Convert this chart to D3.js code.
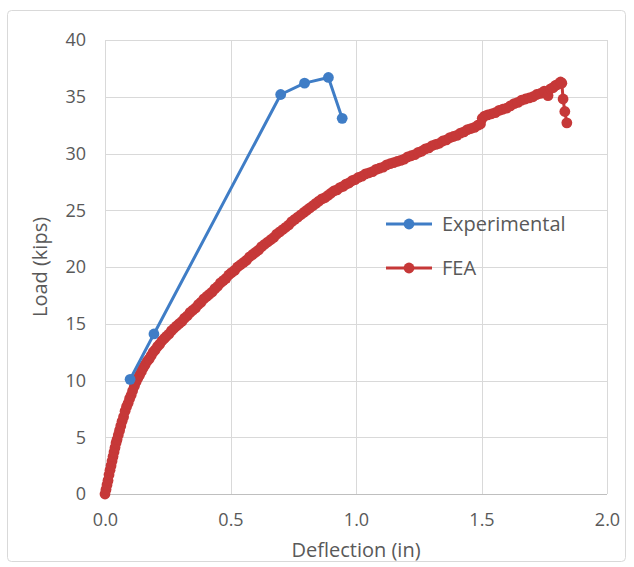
<!DOCTYPE html>
<html>
<head>
<meta charset="utf-8">
<script src="https://cdn.jsdelivr.net/npm/d3@7"></script>
<style>
  html, body { margin: 0; padding: 0; background: #ffffff; }
  svg text { font-family: "Open Sans", "Noto Sans", sans-serif; fill: #595959; }
</style>
</head>
<body>
<svg id="chart" width="634" height="567"></svg>
<script>
// ---- data ----
const xTicks = [0.0, 0.5, 1.0, 1.5, 2.0];
const yTicks = [0, 5, 10, 15, 20, 25, 30, 35, 40];
const seriesNames = ["Experimental", "FEA"];

const expDeflection = [0.10, 0.195, 0.70, 0.795, 0.89, 0.945];
const expLoad       = [10.1, 14.1, 35.2, 36.2, 36.7, 33.1];

const feaDeflection = [
  0.000, 0.004, 0.008, 0.012, 0.016, 0.020, 0.024, 0.028, 0.032, 0.036,
  0.040, 0.044, 0.048, 0.053, 0.058, 0.063, 0.068, 0.074, 0.080, 0.086,
  0.092, 0.098, 0.104, 0.110, 0.117, 0.124, 0.131, 0.138, 0.145, 0.152,
  0.160, 0.168, 0.176, 0.184, 0.192, 0.200, 0.209, 0.218, 0.227, 0.236,
  0.245, 0.255, 0.265, 0.275, 0.285, 0.295, 0.306, 0.317, 0.328, 0.339,
  0.350, 0.361, 0.372, 0.383, 0.394, 0.405, 0.416, 0.427, 0.438, 0.449,
  0.460, 0.471, 0.482, 0.493, 0.504, 0.516, 0.528, 0.540, 0.552, 0.564,
  0.576, 0.588, 0.600, 0.612, 0.624, 0.636, 0.648, 0.660, 0.672, 0.684,
  0.696, 0.708, 0.720, 0.732, 0.744, 0.756, 0.768, 0.780, 0.792, 0.804,
  0.816, 0.828, 0.840, 0.852, 0.864, 0.876, 0.888, 0.900, 0.912, 0.924,
  0.936, 0.948, 0.960, 0.972, 0.984, 0.996, 1.010, 1.024, 1.038, 1.052,
  1.066, 1.080, 1.094, 1.108, 1.122, 1.136, 1.150, 1.164, 1.178, 1.192,
  1.206, 1.220, 1.234, 1.248, 1.262, 1.276, 1.290, 1.304, 1.318, 1.332,
  1.346, 1.360, 1.374, 1.388, 1.402, 1.416, 1.430, 1.444, 1.458, 1.472,
  1.486, 1.496, 1.503, 1.512, 1.525, 1.540, 1.555, 1.570, 1.585, 1.600,
  1.615, 1.630, 1.645, 1.660, 1.675, 1.690, 1.705, 1.720, 1.735, 1.750,
  1.765, 1.775, 1.785, 1.795, 1.805, 1.815, 1.820, 1.825, 1.832, 1.840
];
const feaLoad = [
  0.0, 0.4, 0.8, 1.2, 1.7, 2.1, 2.5, 2.9, 3.3, 3.7,
  4.1, 4.5, 4.8, 5.2, 5.6, 6.0, 6.4, 6.8, 7.3, 7.7,
  8.0, 8.4, 8.7, 9.1, 9.5, 9.9, 10.2, 10.5, 10.8, 11.1,
  11.4, 11.7, 11.9, 12.2, 12.5, 12.7, 13.0, 13.2, 13.5, 13.7,
  13.9, 14.1, 14.4, 14.6, 14.8, 15.0, 15.2, 15.5, 15.7, 16.0,
  16.2, 16.4, 16.7, 16.9, 17.2, 17.4, 17.6, 17.8, 18.1, 18.3,
  18.6, 18.8, 19.0, 19.3, 19.5, 19.7, 20.0, 20.2, 20.4, 20.6,
  20.9, 21.1, 21.3, 21.5, 21.8, 22.0, 22.2, 22.4, 22.6, 22.9,
  23.1, 23.3, 23.5, 23.7, 24.0, 24.2, 24.4, 24.6, 24.8, 25.0,
  25.2, 25.4, 25.6, 25.8, 26.0, 26.1, 26.3, 26.5, 26.7, 26.8,
  27.0, 27.1, 27.3, 27.4, 27.6, 27.7, 27.9, 28.0, 28.2, 28.3,
  28.4, 28.6, 28.7, 28.8, 29.0, 29.1, 29.2, 29.3, 29.4, 29.5,
  29.7, 29.8, 29.9, 30.1, 30.2, 30.4, 30.5, 30.7, 30.8, 30.9,
  31.1, 31.2, 31.4, 31.5, 31.6, 31.8, 31.9, 32.1, 32.2, 32.3,
  32.5, 32.6, 33.1, 33.3, 33.4, 33.5, 33.6, 33.8, 33.9, 34.0,
  34.2, 34.4, 34.5, 34.7, 34.8, 34.9, 35.0, 35.2, 35.3, 35.5,
  35.1, 35.7, 35.8, 36.0, 36.1, 36.3, 36.2, 34.8, 33.7, 32.7
];

const colors = { Experimental: "#3f7dc6", FEA: "#c63838" };

// ---- layout ----
const svg = d3.select("#chart");
const plot = { left: 105, right: 607, top: 40, bottom: 494 };

const x = d3.scaleLinear().domain([0, 2]).range([plot.left, plot.right]);
const y = d3.scaleLinear().domain([0, 40]).range([plot.bottom, plot.top]);

// outer chart border
svg.append("rect")
  .attr("x", 7.5).attr("y", 10.5).attr("width", 618).attr("height", 551)
  .attr("rx", 4)
  .attr("fill", "#ffffff").attr("stroke", "#d9d9d9").attr("stroke-width", 1);

// gridlines
const grid = svg.append("g");
grid.selectAll("line.h").data(yTicks).join("line")
  .attr("x1", plot.left).attr("x2", plot.right)
  .attr("y1", d => Math.round(y(d)) + 0.5).attr("y2", d => Math.round(y(d)) + 0.5)
  .attr("stroke", d => d === 0 ? "#bfbfbf" : "#d9d9d9").attr("stroke-width", 1);
grid.selectAll("line.v").data(xTicks).join("line")
  .attr("y1", plot.top).attr("y2", plot.bottom)
  .attr("x1", d => Math.round(x(d)) + 0.5).attr("x2", d => Math.round(x(d)) + 0.5)
  .attr("stroke", "#d9d9d9").attr("stroke-width", 1);

// axes (labels only)
const yAxis = d3.axisLeft(y).tickValues(yTicks).tickSize(0).tickPadding(19).tickFormat(d3.format("d"));
const gy = svg.append("g").attr("transform", `translate(${plot.left},0)`).call(yAxis);
gy.select(".domain").remove();
gy.selectAll("text").style("font-size", "18px").attr("fill", "#595959");

const xAxis = d3.axisBottom(x).tickValues(xTicks).tickSize(0).tickPadding(19).tickFormat(d3.format(".1f"));
const gx = svg.append("g").attr("transform", `translate(0,${plot.bottom})`).call(xAxis);
gx.select(".domain").remove();
gx.selectAll("text").style("font-size", "18px").attr("fill", "#595959");

// axis titles
svg.append("text")
  .attr("x", 356).attr("y", 557)
  .attr("text-anchor", "middle").style("font-size", "20px")
  .text("Deflection (in)");
svg.append("text")
  .attr("transform", `translate(47,${(plot.top + plot.bottom) / 2}) rotate(-90)`)
  .attr("text-anchor", "middle").style("font-size", "20px")
  .text("Load (kips)");

// series
const line = d3.line().x(d => x(d[0])).y(d => y(d[1]));
const feaPts = feaDeflection.map((d, i) => [d, feaLoad[i]]);
const expPts = expDeflection.map((d, i) => [d, expLoad[i]]);

function drawSeries(pts, color) {
  const g = svg.append("g");
  g.append("path").datum(pts).attr("d", line)
    .attr("fill", "none").attr("stroke", color).attr("stroke-width", 3)
    .attr("stroke-linejoin", "round");
  g.selectAll("circle").data(pts).join("circle")
    .attr("cx", d => x(d[0])).attr("cy", d => y(d[1])).attr("r", 5.4)
    .attr("fill", color);
}
drawSeries(feaPts, colors.FEA);
drawSeries(expPts, colors.Experimental);

// legend
const legend = svg.append("g");
const legendY = [224, 268];
seriesNames.forEach((name, i) => {
  const ly = legendY[i];
  legend.append("line").attr("x1", 386).attr("x2", 432).attr("y1", ly).attr("y2", ly)
    .attr("stroke", colors[name]).attr("stroke-width", 3);
  legend.append("circle").attr("cx", 409).attr("cy", ly).attr("r", 5.4).attr("fill", colors[name]);
  legend.append("text").attr("x", 442).attr("y", ly).attr("dy", "0.35em")
    .style("font-size", "20px").text(name);
});
</script>
</body>
</html>
